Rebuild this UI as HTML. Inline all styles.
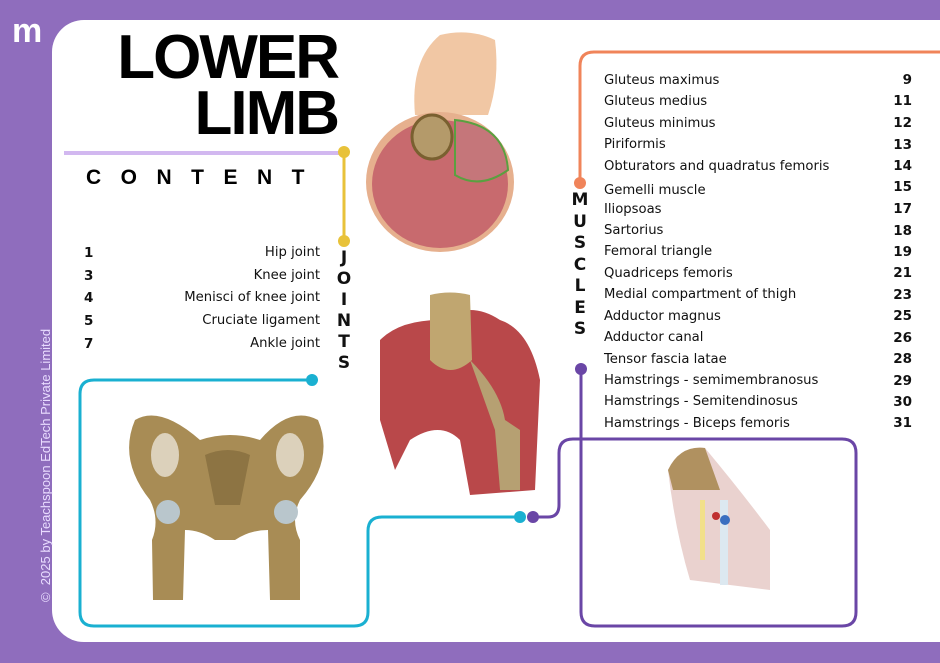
<!DOCTYPE html>
<html><head><meta charset="utf-8"><style>
body{margin:0;width:940px;height:663px;overflow:hidden;background:#8f6dbd;font-family:"Liberation Sans","DejaVu Sans",sans-serif;position:relative}
.panel{position:absolute;left:52px;top:20px;width:920px;height:622px;background:#fff;border-radius:32px 0 0 32px}
.abs{position:absolute}
.t{position:absolute;font-family:"DejaVu Sans",sans-serif;font-size:13.2px;color:#111;white-space:nowrap}
.n{position:absolute;font-family:"DejaVu Sans",sans-serif;font-weight:bold;font-size:13.5px;color:#111}
.v{position:absolute;font-family:"DejaVu Sans",sans-serif;font-weight:bold;font-size:17px;color:#111;width:20px;text-align:center}
</style></head><body>
<div class="panel"></div>
<div class="abs" style="left:12px;top:14px;color:#fff;font-size:34px;font-weight:bold;line-height:34px">m</div>
<div class="abs" style="left:38px;top:602px;transform:rotate(-90deg);transform-origin:0 0;color:#e9dcff;font-size:13px;white-space:nowrap">© &nbsp;2025 by Teachspoon EdTech Private Limited</div>
<div class="abs" style="left:60px;top:30px;width:278px;text-align:right;font-weight:bold;font-size:62px;line-height:56px;letter-spacing:-2px;color:#000">LOWER<br>LIMB</div>
<div class="abs" style="left:64px;top:151px;width:278px;height:4px;background:#d2b8f0"></div>
<div class="abs" style="left:86px;top:166px;font-weight:bold;font-size:21px;letter-spacing:19.5px;color:#000">CONTENT</div>
<svg class="abs" style="left:0;top:0" width="940" height="663">
<g fill="none" stroke-width="3">
<path d="M344 152 V241" stroke="#e8c23a"/>
<path d="M580 183 V66 Q580 52 594 52 H940" stroke="#f0845a"/>
<path d="M312 380 H94 Q80 380 80 394 V612 Q80 626 94 626 H354 Q368 626 368 612 V531 Q368 517 382 517 H520" stroke="#1ab0d1"/>
<path d="M533 517 H548 Q559 517 559 505 V453 Q559 439 573 439 H842 Q856 439 856 453 V612 Q856 626 842 626 H595 Q581 626 581 612 V369" stroke="#6a46a6"/>
</g>
<circle cx="344" cy="152" r="6" fill="#e8c23a"/><circle cx="344" cy="241" r="6" fill="#e8c23a"/>
<circle cx="580" cy="183" r="6" fill="#f0845a"/>
<circle cx="312" cy="380" r="6" fill="#1ab0d1"/><circle cx="520" cy="517" r="6" fill="#1ab0d1"/>
<circle cx="533" cy="517" r="6" fill="#6a46a6"/><circle cx="581" cy="369" r="6" fill="#6a46a6"/>
<path d="M415 115 Q410 60 440 35 Q470 28 495 40 Q500 80 488 115 Z" fill="#f1c7a4"/>
<ellipse cx="440" cy="182" rx="74" ry="70" fill="#e6b08e"/>
<ellipse cx="440" cy="184" rx="68" ry="64" fill="#c86a6e"/>
<ellipse cx="432" cy="137" rx="20" ry="22" fill="#b49a6a" stroke="#7a6030" stroke-width="3"/>
<path d="M455 120 Q505 125 508 170 Q480 190 455 175 Z" fill="#c5767a" stroke="#5aa040" stroke-width="2"/>
<path d="M380 340 Q400 320 440 320 Q470 300 500 320 Q530 330 540 380 L535 490 L470 495 L460 440 Q440 420 410 440 L395 470 L380 420 Z" fill="#b9484a"/>
<path d="M430 295 Q450 290 470 295 L472 360 Q450 380 430 360 Z" fill="#c0a670"/>
<path d="M470 360 Q500 390 505 420 L520 430 L520 490 L500 490 L495 430 Z" fill="#b6a072"/>
<path d="M135 420 Q160 405 200 440 Q230 430 260 440 Q290 405 318 420 Q335 460 300 500 Q290 520 300 540 L300 600 L270 600 L268 530 Q250 530 235 540 L215 540 Q200 530 185 530 L183 600 L153 600 L152 540 Q160 520 150 500 Q118 460 135 420 Z" fill="#a88c55"/>
<ellipse cx="165" cy="455" rx="14" ry="22" fill="#fff" opacity="0.6"/><ellipse cx="290" cy="455" rx="14" ry="22" fill="#fff" opacity="0.6"/>
<path d="M205 455 Q228 445 250 455 L240 505 L215 505 Z" fill="#8d7443"/>
<circle cx="168" cy="512" r="12" fill="#b9c6cc"/><circle cx="286" cy="512" r="12" fill="#b9c6cc"/>
<path d="M668 470 Q680 445 705 448 Q740 490 770 530 L770 590 L690 580 Q675 530 668 470 Z" fill="#ead2cf"/>
<path d="M668 470 Q680 445 705 448 L720 490 L673 490 Z" fill="#b09160"/>
<rect x="720" y="500" width="8" height="85" fill="#dce8f0"/>
<circle cx="725" cy="520" r="5" fill="#3a6fc0"/><circle cx="716" cy="516" r="4" fill="#c03030"/>
<rect x="700" y="500" width="5" height="60" fill="#f2e08a"/>
</svg>
<div class="v" style="left:334px;top:248px;line-height:21px">J<br>O<br>I<br>N<br>T<br>S</div>
<div class="v" style="left:570px;top:190px;line-height:21.5px">M<br>U<br>S<br>C<br>L<br>E<br>S</div>
<div class="n" style="left:84px;top:245px">1</div><div class="t" style="right:620px;top:245px">Hip joint</div>
<div class="n" style="left:84px;top:268px">3</div><div class="t" style="right:620px;top:268px">Knee joint</div>
<div class="n" style="left:84px;top:290px">4</div><div class="t" style="right:620px;top:290px">Menisci of knee joint</div>
<div class="n" style="left:84px;top:313px">5</div><div class="t" style="right:620px;top:313px">Cruciate ligament</div>
<div class="n" style="left:84px;top:336px">7</div><div class="t" style="right:620px;top:336px">Ankle joint</div>
<div class="t" style="left:604px;top:73px">Gluteus maximus</div><div class="n" style="right:28px;top:72px">9</div>
<div class="t" style="left:604px;top:94px">Gluteus medius</div><div class="n" style="right:28px;top:93px">11</div>
<div class="t" style="left:604px;top:116px">Gluteus minimus</div><div class="n" style="right:28px;top:115px">12</div>
<div class="t" style="left:604px;top:137px">Piriformis</div><div class="n" style="right:28px;top:137px">13</div>
<div class="t" style="left:604px;top:159px">Obturators and quadratus femoris</div><div class="n" style="right:28px;top:158px">14</div>
<div class="t" style="left:604px;top:183px">Gemelli muscle</div><div class="n" style="right:28px;top:179px">15</div>
<div class="t" style="left:604px;top:202px">Iliopsoas</div><div class="n" style="right:28px;top:201px">17</div>
<div class="t" style="left:604px;top:223px">Sartorius</div><div class="n" style="right:28px;top:223px">18</div>
<div class="t" style="left:604px;top:244px">Femoral triangle</div><div class="n" style="right:28px;top:244px">19</div>
<div class="t" style="left:604px;top:266px">Quadriceps femoris</div><div class="n" style="right:28px;top:265px">21</div>
<div class="t" style="left:604px;top:287px">Medial compartment of thigh</div><div class="n" style="right:28px;top:287px">23</div>
<div class="t" style="left:604px;top:309px">Adductor magnus</div><div class="n" style="right:28px;top:308px">25</div>
<div class="t" style="left:604px;top:330px">Adductor canal</div><div class="n" style="right:28px;top:330px">26</div>
<div class="t" style="left:604px;top:352px">Tensor fascia latae</div><div class="n" style="right:28px;top:351px">28</div>
<div class="t" style="left:604px;top:373px">Hamstrings - semimembranosus</div><div class="n" style="right:28px;top:373px">29</div>
<div class="t" style="left:604px;top:394px">Hamstrings - Semitendinosus</div><div class="n" style="right:28px;top:394px">30</div>
<div class="t" style="left:604px;top:416px">Hamstrings - Biceps femoris</div><div class="n" style="right:28px;top:415px">31</div>
</body></html>
